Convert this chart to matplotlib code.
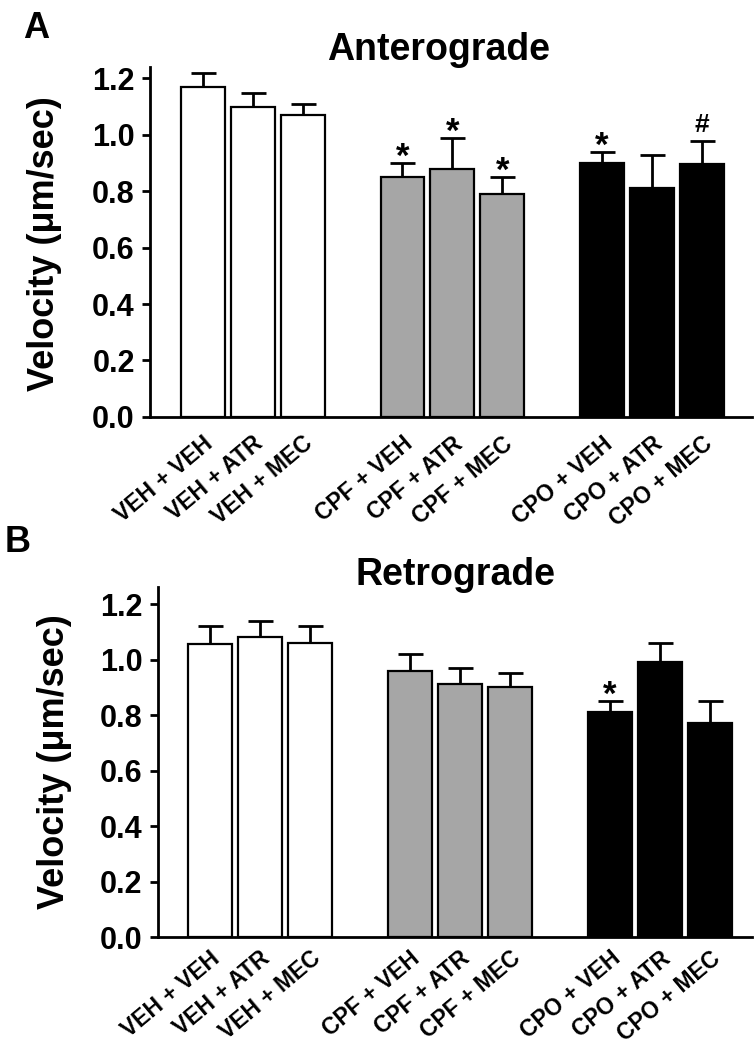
import matplotlib
matplotlib.use("Agg")
from matplotlib import pyplot as plt

plt.rcParams['font.family'] = ['Liberation Sans', 'DejaVu Sans']
plt.rcParams['font.weight'] = 'bold'

labels = ('VEH + VEH', 'VEH + ATR', 'VEH + MEC',
          'CPF + VEH', 'CPF + ATR', 'CPF + MEC',
          'CPO + VEH', 'CPO + ATR', 'CPO + MEC')
pos = (0, 1, 2, 4, 5, 6, 8, 9, 10)
colors = ['white'] * 3 + ['#a6a6a6'] * 3 + ['black'] * 3

antero = (1.17, 1.10, 1.07, 0.85, 0.88, 0.79, 0.90, 0.81, 0.895)
antero_err = (0.05, 0.05, 0.04, 0.05, 0.11, 0.06, 0.04, 0.12, 0.085)
antero_marks = ('', '', '', '*', '*', '*', '*', '', '#')

retro = (1.055, 1.08, 1.06, 0.96, 0.91, 0.90, 0.81, 0.99, 0.77)
retro_err = (0.065, 0.06, 0.06, 0.06, 0.06, 0.05, 0.04, 0.07, 0.08)
retro_marks = ('', '', '', '', '', '', '*', '', '')

yticks = (0.0, 0.2, 0.4, 0.6, 0.8, 1.0, 1.2)


def panel(ax, vals, errs, marks, ylim, xlim, xpad):
    ax.bar(pos, vals, width=0.88, color=colors, edgecolor='black', linewidth=1.6, zorder=3)
    ax.errorbar(pos, vals, yerr=[[0] * len(vals), errs], fmt='none', ecolor='black',
                elinewidth=2, capsize=9, capthick=2, zorder=2)
    for p, v, e, m in zip(pos, vals, errs, marks):
        if m == '*':
            ax.annotate(m, (p, v + e), xytext=(0, -3), textcoords='offset points',
                        ha='center', va='baseline', fontsize=25, fontweight='bold')
        elif m:
            ax.annotate(m, (p, v + e), xytext=(0, 6), textcoords='offset points',
                        ha='center', va='baseline', fontsize=19, fontweight='bold')
    ax.set_ylim(*ylim)
    ax.set_xlim(*xlim)
    ax.set_yticks(yticks)
    ax.set_yticklabels(['%.1f' % t for t in yticks], fontsize=22, fontweight='bold')
    ax.set_xticks(pos)
    ax.set_xticklabels(labels, rotation=40, ha='right', rotation_mode='anchor',
                       fontsize=16.5, fontweight='bold')
    ax.tick_params(axis='x', length=0, pad=xpad)
    ax.tick_params(axis='y', length=6, width=2, pad=5)
    for s in ('top', 'right'):
        ax.spines[s].set_visible(False)
    for s in ('left', 'bottom'):
        ax.spines[s].set_linewidth(2)


fig = plt.figure(figsize=(7.54, 10.5), dpi=100)

ax1 = fig.add_axes([0.199, 0.603, 0.798, 0.333])
panel(ax1, antero, antero_err, antero_marks, (0, 1.24), (-1.06, 11.0), 11)

ax2 = fig.add_axes([0.2095, 0.1076, 0.7875, 0.333])
panel(ax2, retro, retro_err, retro_marks, (0, 1.26), (-1.04, 10.84), 7)


def fx(px):
    return px / 754.0


def fy(px):
    return 1 - px / 1050.0


fig.text(fx(439), fy(50), 'Anterograde', fontsize=27, fontweight='bold', ha='center', va='center')
fig.text(fx(456), fy(575), 'Retrograde', fontsize=27, fontweight='bold', ha='center', va='center')

fig.text(fx(45), fy(244), u'Velocity (\u03bcm/sec)', fontsize=26, fontweight='bold',
         rotation=90, ha='center', va='center')
fig.text(fx(54), fy(762), u'Velocity (\u03bcm/sec)', fontsize=26, fontweight='bold',
         rotation=90, ha='center', va='center')

fig.text(fx(36), fy(28), 'A', fontsize=26, fontweight='bold', ha='center', va='center')
fig.text(fx(18), fy(543), 'B', fontsize=26, fontweight='bold', ha='center', va='center')

fig.savefig('out.png', dpi=100)
